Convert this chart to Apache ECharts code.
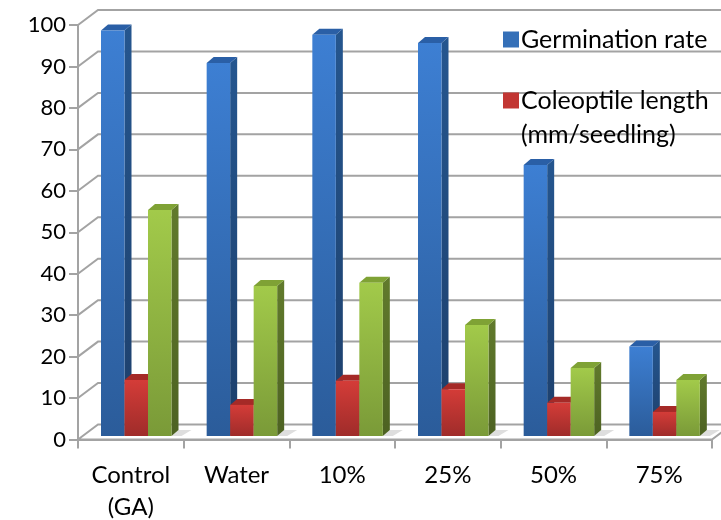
<!DOCTYPE html>
<html>
<head>
<meta charset="utf-8">
<style>html,body{margin:0;padding:0;background:#fff}#chart{width:721px;height:520px}</style>
<script src="https://cdn.jsdelivr.net/npm/echarts@6/dist/echarts.min.js"></script>
</head>
<body>
<div id="chart"></div>
<script>
var categories = ['Control\n(GA)', 'Water', '10%', '25%', '50%', '75%'];
var germination = [97.8, 90, 96.8, 94.8, 65.4, 21.6];
var coleoptile = [13.5, 7.5, 13.3, 11.3, 8, 5.8];
var third = [54.5, 36.2, 37, 26.8, 16.4, 13.5];
var yTicks = [10, 20, 30, 40, 50, 60, 70, 80, 90, 100];

var fontName = 'Lato';
var wallX = 20, wallY = 15;   // how far the back wall sits behind the axes
var depthX = 7, depthY = 6;   // bar depth
var barW = 23.5, firstBar = 23, baseLift = 3.5;

function vgrad(a, b) {
  return new echarts.graphic.LinearGradient(0, 0, 0, 1, [{offset: 0, color: a}, {offset: 1, color: b}]);
}

function poly(pts, fill, z2) {
  return {type: 'polygon', shape: {points: pts}, style: {fill: fill}, z2: z2 || 0};
}

// one bar = front, side and top faces, placed with the axis scales
function barSeries(name, values, slot, colors) {
  return {
    name: name,
    type: 'custom',
    coordinateSystem: 'cartesian2d',
    z: 3,
    data: values.map(function (v, i) { return [i, v]; }),
    encode: {x: 0, y: 1},
    itemStyle: {color: colors.legend},
    renderItem: function (params, api) {
      var top = api.coord([api.value(0), api.value(1)]);
      var zero = api.coord([api.value(0), 0]);
      var bandW = api.size([1, 0])[0];
      var x0 = top[0] - bandW / 2 + firstBar + slot * barW;
      var x1 = x0 + barW;
      var y0 = top[1] - baseLift;
      var y1 = zero[1] - baseLift;
      return {type: 'group', children: [
        poly([[x1, y0], [x1 + depthX, y0 - depthY], [x1 + depthX, y1 - depthY], [x1, y1]], vgrad(colors.side[0], colors.side[1])),
        poly([[x0, y0], [x0 + depthX, y0 - depthY], [x1 + depthX, y0 - depthY], [x1, y0]], colors.top),
        {type: 'rect', shape: {x: x0, y: y0, width: barW, height: y1 - y0}, style: {fill: vgrad(colors.front[0], colors.front[1])}}
      ]};
    }
  };
}

var wallLines = {
  type: 'custom',
  coordinateSystem: 'cartesian2d',
  silent: true,
  z: 1,
  data: yTicks.map(function (t) { return [0, t]; }),
  encode: {x: 0, y: 1},
  renderItem: function (params, api) {
    var p = api.coord([0, api.value(1)]);
    var left = params.coordSys.x;
    var right = params.coordSys.x + params.coordSys.width;
    return {type: 'polyline',
      shape: {points: [[left, p[1]], [left + wallX, p[1] - wallY], [right + wallX, p[1] - wallY]]},
      style: {stroke: '#a3a3a3', lineWidth: 2, fill: null}};
  }
};

var floor = {
  type: 'custom',
  coordinateSystem: 'cartesian2d',
  silent: true,
  z: 2,
  data: [[0, 0]],
  encode: {x: 0, y: 1},
  renderItem: function (params, api) {
    var p = api.coord([0, 0]);
    var left = params.coordSys.x;
    var right = params.coordSys.x + params.coordSys.width;
    var shadows = categories.map(function (c, i) {
      var bandW = right - left;
      var sx = left + (i * bandW) / categories.length + firstBar + 3 * barW;
      return poly([[sx, p[1] - 3.5], [sx + 7, p[1] - 9.5], [sx + 20, p[1] - 9.5], [sx + 10, p[1] - 3.5]], '#dedede');
    });
    return {type: 'group', children: [
      {type: 'polygon',
        shape: {points: [[left, p[1]], [left + wallX, p[1] - wallY], [right + wallX, p[1] - wallY], [right, p[1]]]},
        style: {fill: '#fff', stroke: '#a3a3a3', lineWidth: 2}}
    ].concat(shadows)};
  }
};

var chart = echarts.init(document.getElementById('chart'), null, {renderer: 'canvas'});
chart.setOption({
  animation: false,
  backgroundColor: '#fff',
  textStyle: {fontFamily: fontName},
  grid: {left: 78, top: 25, width: 634, height: 414.5, outerBoundsMode: 'none'},
  legend: {
    orient: 'vertical',
    left: 498,
    top: 22,
    itemGap: 36,
    itemWidth: 16,
    itemHeight: 16,
    icon: 'rect',
    data: ['Germination rate', 'Coleoptile length'],
    textStyle: {fontFamily: fontName, fontSize: 25, color: '#000', padding: [0, 0, 0, -3]},
    selectedMode: false
  },
  graphic: [{
    type: 'text',
    left: 521,
    top: 122,
    z: 100,
    style: {text: '(mm/seedling)', fontFamily: fontName, fontSize: 25, fill: '#000'}
  }],
  xAxis: {
    type: 'category',
    data: categories,
    axisLine: {lineStyle: {color: '#a3a3a3', width: 2}},
    axisTick: {show: true, alignWithLabel: false, interval: 0, length: 9, lineStyle: {color: '#a3a3a3', width: 2}},
    axisLabel: {color: '#000', fontFamily: fontName, fontSize: 24, lineHeight: 32, margin: 20},
    splitLine: {show: false}
  },
  yAxis: {
    type: 'value',
    min: 0,
    max: 100,
    interval: 10,
    axisLine: {show: true, lineStyle: {color: '#a3a3a3', width: 2}},
    axisTick: {show: true, length: 9, lineStyle: {color: '#a3a3a3', width: 2}},
    axisLabel: {color: '#000', fontFamily: fontName, fontSize: 22, margin: 12},
    splitLine: {show: false}
  },
  series: [
    wallLines,
    floor,
    barSeries('Germination rate', germination, 0, {
      front: ['#3d7fd3', '#2b5c9a'], side: ['#25568f', '#1d3f6b'], top: '#2a5fa6', legend: '#3570b8'
    }),
    barSeries('Coleoptile length', coleoptile, 1, {
      front: ['#d43c38', '#9f2c2a'], side: ['#8c2624', '#6e1e1c'], top: '#a52a27', legend: '#c23633'
    }),
    barSeries('Third series', third, 2, {
      front: ['#a2ca4a', '#7a9a38'], side: ['#617a2c', '#4d6222'], top: '#7fa235', legend: '#8fb33f'
    })
  ]
});
</script>
</body>
</html>
